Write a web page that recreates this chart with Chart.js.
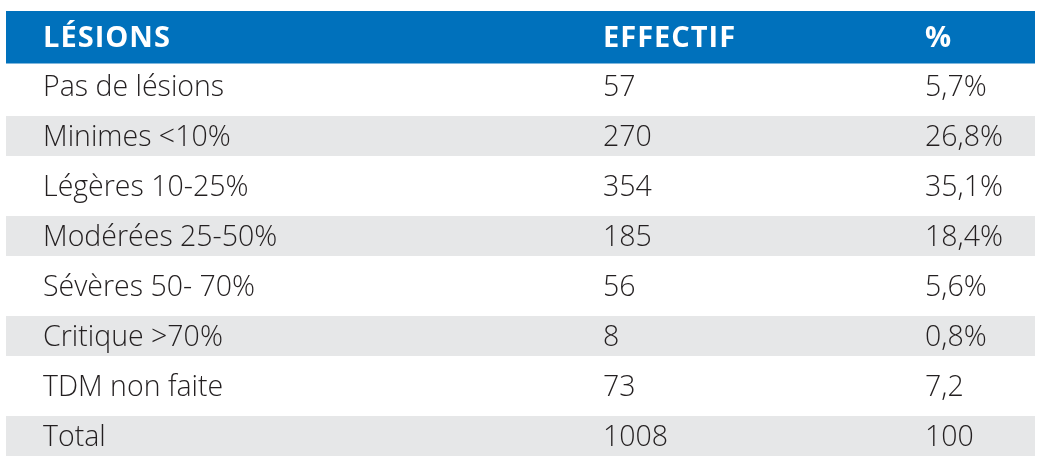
<!DOCTYPE html>
<html>
<head>
<meta charset="utf-8">
<script src="https://cdn.jsdelivr.net/npm/chart.js@4"></script>
<style>
  html, body { margin: 0; padding: 0; background: #ffffff; }
  #wrap { width: 1040px; height: 471px; }
</style>
</head>
<body>
<div id="wrap"><canvas id="tableChart"></canvas></div>
<script>
const headers = ['LÉSIONS', 'EFFECTIF', '%'];
const lesions = [
    'Pas de lésions', 'Minimes <10%', 'Légères 10-25%', 'Modérées 25-50%',
    'Sévères 50- 70%', 'Critique >70%', 'TDM non faite', 'Total'
];
const effectifs = [57, 270, 354, 185, 56, 8, 73, 1008];
const percents = ['5,7%', '26,8%', '35,1%', '18,4%', '5,6%', '0,8%', '7,2', '100'];

const rowLabels = [headers[0], ...lesions];
const columnStops = [0.036, 0.5802, 0.8931];

const blue = '#0071bc';
const grey = '#e6e7e8';
const ink = '#231f20';

// header band on the first row, grey band on every second data row
const headerBand = rowLabels.map((_, i) => i === 0 ? [0, 1] : null);
const greyBand = rowLabels.map((_, i) => i > 0 && i % 2 === 0 ? [0, 1] : null);

const cellText = {
    id: 'cellText',
    afterDatasetsDraw(chart) {
        const { ctx, scales: { x, y } } = chart;
        const xs = columnStops.map(v => x.getPixelForValue(v));
        ctx.save();
        ctx.textBaseline = 'alphabetic';
        ctx.textAlign = 'left';

        const hy = y.getPixelForValue(0);
        ctx.fillStyle = '#ffffff';
        ctx.font = '700 29px "Open Sans", sans-serif';
        ctx.letterSpacing = '1px';
        headers.forEach((h, c) => ctx.fillText(h, xs[c], hy + 10.5));

        ctx.letterSpacing = '0px';
        ctx.fillStyle = ink;
        ctx.font = '300 28.5px "Open Sans", sans-serif';
        lesions.forEach((name, r) => {
            const cy = y.getPixelForValue(r + 1) + 10;
            ctx.fillText(name, xs[0], cy);
            ctx.fillText(String(effectifs[r]), xs[1], cy);
            ctx.fillText(percents[r], xs[2], cy);
        });
        ctx.restore();
    }
};

new Chart(document.getElementById('tableChart'), {
    type: 'bar',
    data: {
        labels: rowLabels,
        datasets: [
            {
                label: 'header',
                data: headerBand,
                backgroundColor: blue,
                barPercentage: 1.1,
                categoryPercentage: 1,
                grouped: false,
                borderSkipped: false
            },
            {
                label: 'stripes',
                data: greyBand,
                backgroundColor: grey,
                barPercentage: 0.8,
                categoryPercentage: 1,
                grouped: false,
                borderSkipped: false
            }
        ]
    },
    options: {
        indexAxis: 'y',
        responsive: true,
        maintainAspectRatio: false,
        animation: false,
        events: [],
        layout: { padding: { left: 6, right: 5, top: 11, bottom: 10 } },
        scales: {
            x: { type: 'linear', min: 0, max: 1, display: false },
            y: { type: 'category', display: false, offset: true }
        },
        plugins: {
            legend: { display: false },
            tooltip: { enabled: false }
        }
    },
    plugins: [cellText]
});
</script>
</body>
</html>
